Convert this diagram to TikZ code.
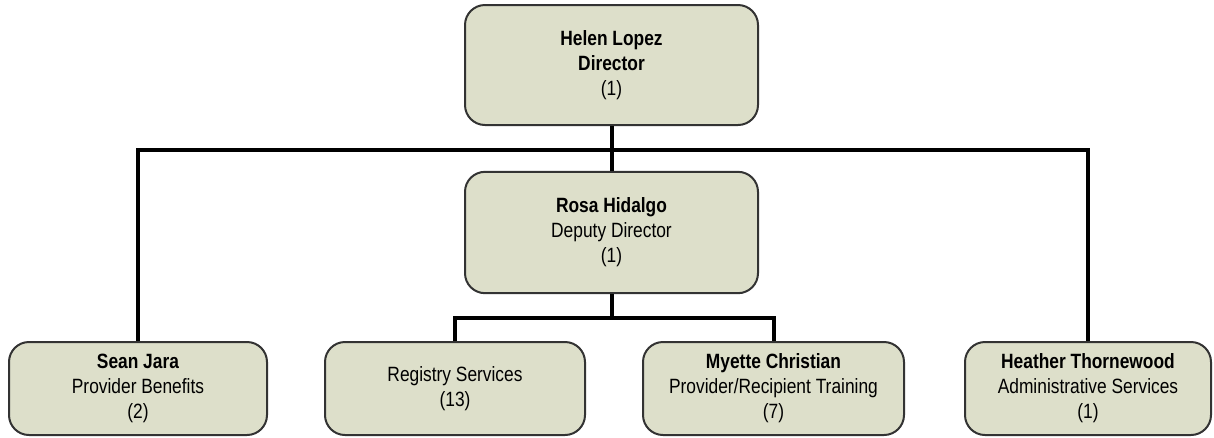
\documentclass[tikz,border=0pt]{standalone}
\usepackage{fontspec}
\setmainfont{Liberation Sans}[FakeStretch=0.84]
\usepackage{xcolor}
\definecolor{unitfill}{RGB}{221,223,202}
\tikzset{
  unit/.style={draw=black!80, line width=1.5pt, fill=unitfill, rounded corners=15pt,
    align=center, inner sep=0pt, font=\fontsize{15.5}{18.75}\selectfont},
  link/.style={line width=3pt}
}

\begin{document}
\begin{tikzpicture}[x=0.75pt,y=-0.75pt]
\useasboundingbox (0,0) rectangle (1214,437);
\node[unit,minimum width=219.75pt,minimum height=90pt] (lopez) at (611.5,65)
  {\textbf{Helen Lopez}\\\textbf{Director}\\(1)};
\node[unit,minimum width=219.75pt,minimum height=91pt] (hidalgo) at (611.5,232.5)
  {\textbf{Rosa Hidalgo}\\Deputy Director\\(1)};
\node[unit,minimum width=193.5pt,minimum height=69.75pt] (jara) at (138,388.5)
  {\textbf{Sean Jara}\\Provider Benefits\\(2)};
\node[unit,minimum width=195pt,minimum height=69.75pt] (registry) at (455,388.5)
  {Registry Services\\(13)};
\node[unit,minimum width=195.75pt,minimum height=69.75pt] (christian) at (773.5,388.5)
  {\textbf{Myette Christian}\\Provider/Recipient Training\\(7)};
\node[unit,minimum width=184.5pt,minimum height=69.75pt] (thornewood) at (1088,388.5)
  {\textbf{Heather Thornewood}\\Administrative Services\\(1)};
\coordinate (bus) at (611.5,150);
\coordinate (subbus) at (611.5,318);
\draw[link] (lopez.south) -- (hidalgo.north);
\draw[link] (jara.north) |- (bus) -| (thornewood.north);
\draw[link] (hidalgo.south) -- (subbus);
\draw[link] (registry.north) |- (subbus) -| (christian.north);
\end{tikzpicture}
\end{document}
